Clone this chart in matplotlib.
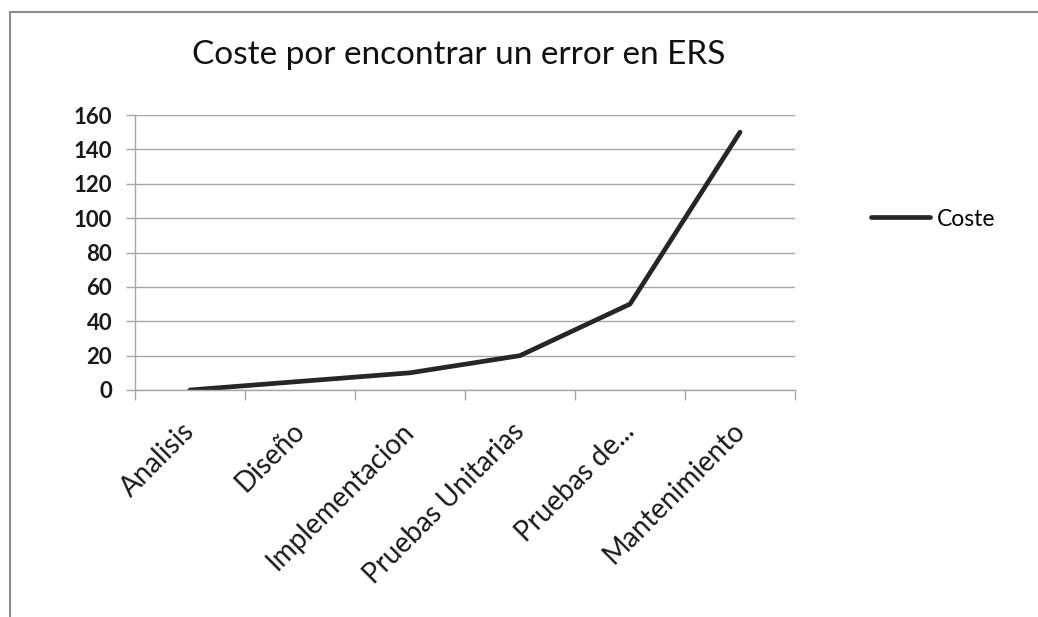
import matplotlib.pyplot as plt
from matplotlib.patches import Rectangle
from matplotlib.transforms import ScaledTranslation
import numpy as np

categories = ["Analisis", "Diseño", "Implementacion", "Pruebas Unitarias",
              "Pruebas de...", "Mantenimiento"]
coste = [0, 5, 10, 20, 50, 150]
yticks = [0, 20, 40, 60, 80, 100, 120, 140, 160]

plt.rcParams['font.family'] = ['Lato', 'DejaVu Sans']
grey = '#a6a6a6'

fig = plt.figure(figsize=(10.38, 6.17), dpi=100)
# outer chart frame (only top and left edges visible)
fig.patches.append(Rectangle((10 / 1038, -0.1), 1.2, 1 - 12 / 617 + 0.1,
                             transform=fig.transFigure, fill=False,
                             edgecolor='#8c8c8c', linewidth=1.5))

ax = fig.add_axes([135 / 1038, 1 - 390 / 617, 660 / 1038, 275 / 617])
x = np.arange(len(categories))
ax.plot(x, coste, color='#262626', linewidth=3.4, solid_capstyle='round',
        label='Coste')

ax.set_xlim(-0.5, len(categories) - 0.5)
ax.set_ylim(0, 160)
ax.set_yticks(yticks)
ax.set_yticklabels([str(v) for v in yticks], fontsize=16, fontweight='bold',
                   color='#1a1a1a')
ax.yaxis.grid(True, color=grey, linewidth=1)
ax.set_axisbelow(True)

ax.set_xticks(x)
ax.set_xticklabels(categories, rotation=45, ha='right', rotation_mode='anchor',
                   fontsize=20, color='#1a1a1a')
ax.tick_params(axis='x', length=0, pad=20)
shift = ScaledTranslation(-9 / 100, 0, fig.dpi_scale_trans)
for lab in ax.get_xticklabels():
    lab.set_transform(lab.get_transform() + shift)
ax.set_xticks(np.arange(-0.5, len(categories)), minor=True)
ax.tick_params(axis='x', which='minor', length=7, color=grey, width=1)
ax.tick_params(axis='y', length=6.5, color=grey, width=1, pad=10)

for s in ['top', 'right']:
    ax.spines[s].set_visible(False)
for s in ['left', 'bottom']:
    ax.spines[s].set_color(grey)
    ax.spines[s].set_linewidth(1)

fig.text(459 / 1038, 1 - 55 / 617, 'Coste por encontrar un error en ERS',
         ha='center', va='center', fontsize=24, color='#111111')

fig.legend(loc='center left', bbox_to_anchor=(850 / 1038, 1 - 219 / 617),
           frameon=False, fontsize=16.5, handlelength=2.6, handletextpad=0.3)

fig.savefig('out.png', dpi=100, facecolor='white')
